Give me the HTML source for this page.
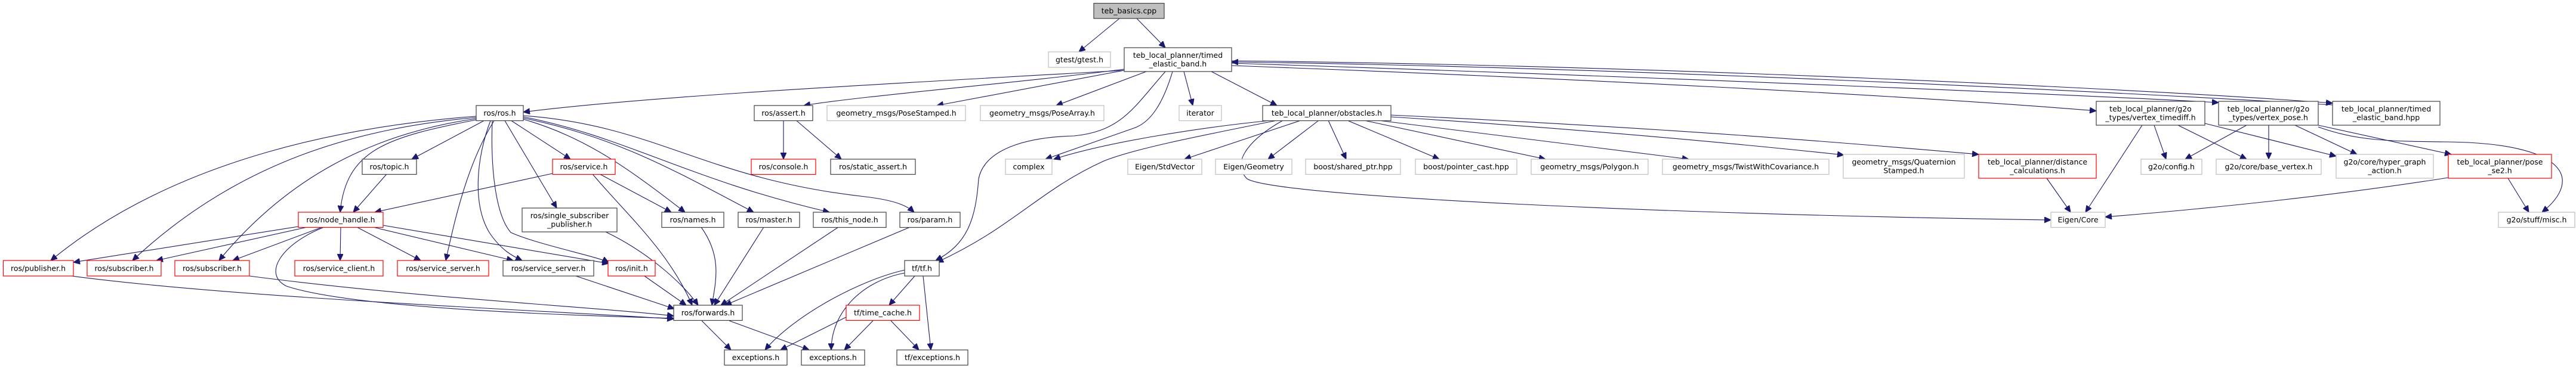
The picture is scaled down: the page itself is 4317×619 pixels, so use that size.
<!DOCTYPE html>
<html><head><meta charset="utf-8"><style>
html,body{margin:0;padding:0;background:#fff;}
svg{display:block;}
text{font-family:"DejaVu Sans","Liberation Sans",sans-serif;font-size:12.5px;fill:#000;}
.k{fill:#fff;stroke:#404040;stroke-width:1.2;}
.r{fill:#fff;stroke:#ff0000;stroke-width:1.2;}
.g{fill:#fff;stroke:#bfbfbf;stroke-width:1.2;}
path.e{fill:none;stroke:#191970;stroke-width:1.1;marker-end:url(#ah);}
</style></head><body>
<svg width="4317" height="619" viewBox="0 0 4317 619" xmlns="http://www.w3.org/2000/svg">
<defs><marker id="ah" markerUnits="userSpaceOnUse" markerWidth="12" markerHeight="10" refX="11" refY="5" orient="auto"><path d="M0,0 L11,5 L0,10 z" fill="#191970" stroke="#191970"/></marker></defs>
<g>
<path class="e" d="M1876,31 L1808,87"/>
<path class="e" d="M1905,31 L1953,80"/>
<path class="e" d="M1884,118 C1500,140 1100,160 877,188"/>
<path class="e" d="M1884,116 C1700,140 1450,160 1347,177"/>
<path class="e" d="M1884,118 L1570,177"/>
<path class="e" d="M1921,120 L1770,177"/>
<path class="e" d="M1953,120 C1900,180 1880,220 1800,228 C1720,230 1650,250 1640,300 C1635,370 1620,410 1568,437"/>
<path class="e" d="M1965,120 C1950,170 1930,205 1900,215 L1752,267"/>
<path class="e" d="M1984,120 L1999,177"/>
<path class="e" d="M2030,120 L2140,177"/>
<path class="e" d="M2064,110 C2600,130 3200,160 3513,186"/>
<path class="e" d="M2064,106 C2800,130 3500,160 3718,172"/>
<path class="e" d="M2064,102 C2800,110 3600,150 3909,173"/>
<path class="e" d="M3909,176 C3500,152 2700,112 2064,104"/>
<path class="e" d="M798,195 C600,210 300,260 85,437"/>
<path class="e" d="M798,197 C600,215 400,270 222,437"/>
<path class="e" d="M798,199 C620,225 480,300 367,437"/>
<path class="e" d="M798,201 C650,230 580,250 570,356"/>
<path class="e" d="M811,202.5 L690,267"/>
<path class="e" d="M857,202.5 L956,267"/>
<path class="e" d="M846,202.5 L933,349"/>
<path class="e" d="M877,200 C980,230 1050,280 1148,356"/>
<path class="e" d="M877,198 C1030,230 1120,280 1263,356"/>
<path class="e" d="M877,196 C1050,230 1150,300 1390,356"/>
<path class="e" d="M877,194 C1100,210 1180,300 1450,330 C1500,336 1520,345 1532,356"/>
<path class="e" d="M828,202.5 C780,280 760,380 747,437"/>
<path class="e" d="M822,202.5 C800,260 790,340 820,390 C840,420 860,430 875,437"/>
<path class="e" d="M825,202.5 C822,280 830,360 856,390 C900,410 1000,430 1020,440"/>
<path class="e" d="M500,380 L123,440"/>
<path class="e" d="M515,381 L262,437"/>
<path class="e" d="M540,381 L390,437"/>
<path class="e" d="M571,381 L570,437"/>
<path class="e" d="M598,381 L705,437"/>
<path class="e" d="M625,381 L860,437"/>
<path class="e" d="M642,378 L1020,442"/>
<path class="e" d="M543,381 C470,410 440,460 480,480 C600,520 1000,530 1129,534"/>
<path class="e" d="M648,292 L592,356"/>
<path class="e" d="M926,291 L628,356"/>
<path class="e" d="M1005,292 L1125,356"/>
<path class="e" d="M993,292 C1050,360 1120,420 1160,512"/>
<path class="e" d="M1015,389 C1080,420 1140,470 1170,512"/>
<path class="e" d="M1175,381 C1210,430 1200,470 1193,512"/>
<path class="e" d="M1280,381 L1197,512"/>
<path class="e" d="M1405,381 L1208,512"/>
<path class="e" d="M1525,381 L1215,512"/>
<path class="e" d="M965,463 L1130,518"/>
<path class="e" d="M1080,463 L1150,512"/>
<path class="e" d="M120,463 C400,500 900,520 1129,535"/>
<path class="e" d="M418,463 C700,500 1000,515 1129,530"/>
<path class="e" d="M1176,538 L1225,587"/>
<path class="e" d="M1222,538 L1356,587"/>
<path class="e" d="M1516,453 C1440,470 1330,530 1282,587"/>
<path class="e" d="M1516,458 C1450,470 1393,520 1393,587"/>
<path class="e" d="M1533,463 L1490,512"/>
<path class="e" d="M1547,463 L1560,587"/>
<path class="e" d="M1418,532 L1308,587"/>
<path class="e" d="M1463,538 L1415,587"/>
<path class="e" d="M1493,538 L1540,587"/>
<path class="e" d="M1313,202.5 L1313,267"/>
<path class="e" d="M1335,202.5 L1410,267"/>
<path class="e" d="M2130,202 C2000,215 1850,240 1766,267"/>
<path class="e" d="M2140,202 C2000,230 1900,250 1850,270 C1740,320 1700,380 1570,440"/>
<path class="e" d="M2150,202 C2100,230 2060,270 2090,300 C2140,330 2800,360 3437,369"/>
<path class="e" d="M2180,202 L1985,267"/>
<path class="e" d="M2210,202 L2125,267"/>
<path class="e" d="M2226,202 L2256,267"/>
<path class="e" d="M2258,202 L2412,267"/>
<path class="e" d="M2286,202 L2590,267"/>
<path class="e" d="M2310,202 L2830,267"/>
<path class="e" d="M2331,196 C2700,220 2950,245 3090,260"/>
<path class="e" d="M2331,193 C2800,215 3100,240 3316,259"/>
<path class="e" d="M3430,299 L3470,356"/>
<path class="e" d="M3590,210 L3495,356"/>
<path class="e" d="M4103,298 C3900,330 3700,350 3528,364"/>
<path class="e" d="M3610,210 L3630,267"/>
<path class="e" d="M3650,210 L3765,267"/>
<path class="e" d="M3695,207 L3915,262"/>
<path class="e" d="M3765,210 L3662,267"/>
<path class="e" d="M3802,210 L3802,267"/>
<path class="e" d="M3846,210 L3950,259"/>
<path class="e" d="M3885,210 L4108,259"/>
<path class="e" d="M3885,213 C3950,236 4000,237 4100,238 C4300,240 4330,300 4260,356"/>
<path class="e" d="M4203,299 L4238,356"/>
</g>
<g>
<rect x="1833" y="5.5" width="118" height="25.5" fill="#bfbfbf" stroke="#404040" stroke-width="1.2"/><text x="1892" y="22.5" text-anchor="middle">teb_basics.cpp</text>
<rect class="g" x="1757" y="87" width="104" height="26"/><text x="1809" y="104.5" text-anchor="middle">gtest/gtest.h</text>
<rect class="k" x="1884" y="80" width="180" height="40"/><text x="1974" y="97" text-anchor="middle">teb_local_planner/timed</text><text x="1974" y="111.5" text-anchor="middle">_elastic_band.h</text>
<rect class="k" x="798" y="177" width="79" height="25.5"/><text x="837.5" y="194" text-anchor="middle">ros/ros.h</text>
<rect class="k" x="1264" y="177" width="98" height="25.5"/><text x="1313" y="194" text-anchor="middle">ros/assert.h</text>
<rect class="g" x="1386" y="177" width="232" height="25.5"/><text x="1502" y="194" text-anchor="middle">geometry_msgs/PoseStamped.h</text>
<rect class="g" x="1643" y="177" width="207" height="25.5"/><text x="1746.5" y="194" text-anchor="middle">geometry_msgs/PoseArray.h</text>
<rect class="g" x="1976" y="177" width="71" height="25.5"/><text x="2011.5" y="194" text-anchor="middle">iterator</text>
<rect class="k" x="2116" y="177" width="215" height="25.5"/><text x="2223.5" y="194" text-anchor="middle">teb_local_planner/obstacles.h</text>
<rect class="k" x="3513" y="170" width="182" height="40"/><text x="3604" y="187" text-anchor="middle">teb_local_planner/g2o</text><text x="3604" y="201.5" text-anchor="middle">_types/vertex_timediff.h</text>
<rect class="k" x="3718" y="170" width="167" height="40"/><text x="3801.5" y="187" text-anchor="middle">teb_local_planner/g2o</text><text x="3801.5" y="201.5" text-anchor="middle">_types/vertex_pose.h</text>
<rect class="k" x="3909" y="170" width="180" height="40"/><text x="3999" y="187" text-anchor="middle">teb_local_planner/timed</text><text x="3999" y="201.5" text-anchor="middle">_elastic_band.hpp</text>
<rect class="k" x="607" y="267" width="91" height="25.5"/><text x="652.5" y="284" text-anchor="middle">ros/topic.h</text>
<rect class="r" x="926" y="267" width="105" height="25.5"/><text x="978.5" y="284" text-anchor="middle">ros/service.h</text>
<rect class="r" x="1259" y="267" width="108" height="25.5"/><text x="1313" y="284" text-anchor="middle">ros/console.h</text>
<rect class="k" x="1392" y="267" width="142" height="25.5"/><text x="1463" y="284" text-anchor="middle">ros/static_assert.h</text>
<rect class="g" x="1685" y="267" width="78" height="25.5"/><text x="1724" y="284" text-anchor="middle">complex</text>
<rect class="g" x="1890" y="267" width="124" height="25.5"/><text x="1952" y="284" text-anchor="middle">Eigen/StdVector</text>
<rect class="g" x="2037" y="267" width="128" height="25.5"/><text x="2101" y="284" text-anchor="middle">Eigen/Geometry</text>
<rect class="g" x="2188" y="267" width="159" height="25.5"/><text x="2267.5" y="284" text-anchor="middle">boost/shared_ptr.hpp</text>
<rect class="g" x="2372" y="267" width="170" height="25.5"/><text x="2457" y="284" text-anchor="middle">boost/pointer_cast.hpp</text>
<rect class="g" x="2566" y="267" width="196" height="25.5"/><text x="2664" y="284" text-anchor="middle">geometry_msgs/Polygon.h</text>
<rect class="g" x="2786" y="267" width="279" height="25.5"/><text x="2925.5" y="284" text-anchor="middle">geometry_msgs/TwistWithCovariance.h</text>
<rect class="g" x="3089" y="259" width="203" height="40"/><text x="3190.5" y="276" text-anchor="middle">geometry_msgs/Quaternion</text><text x="3190.5" y="290.5" text-anchor="middle">Stamped.h</text>
<rect class="r" x="3316" y="259" width="197" height="40"/><text x="3414.5" y="276" text-anchor="middle">teb_local_planner/distance</text><text x="3414.5" y="290.5" text-anchor="middle">_calculations.h</text>
<rect class="g" x="3588" y="267" width="102" height="25.5"/><text x="3639" y="284" text-anchor="middle">g2o/config.h</text>
<rect class="g" x="3714" y="267" width="176" height="25.5"/><text x="3802" y="284" text-anchor="middle">g2o/core/base_vertex.h</text>
<rect class="g" x="3915" y="259" width="163" height="40"/><text x="3996.5" y="276" text-anchor="middle">g2o/core/hyper_graph</text><text x="3996.5" y="290.5" text-anchor="middle">_action.h</text>
<rect class="r" x="4103" y="259" width="173" height="40"/><text x="4189.5" y="276" text-anchor="middle">teb_local_planner/pose</text><text x="4189.5" y="290.5" text-anchor="middle">_se2.h</text>
<rect class="r" x="500" y="356" width="142" height="25.5"/><text x="571" y="373" text-anchor="middle">ros/node_handle.h</text>
<rect class="k" x="875" y="349" width="159" height="40"/><text x="954.5" y="366" text-anchor="middle">ros/single_subscriber</text><text x="954.5" y="380.5" text-anchor="middle">_publisher.h</text>
<rect class="k" x="1109" y="356" width="104" height="25.5"/><text x="1161" y="373" text-anchor="middle">ros/names.h</text>
<rect class="k" x="1237" y="356" width="103" height="25.5"/><text x="1288.5" y="373" text-anchor="middle">ros/master.h</text>
<rect class="k" x="1363" y="356" width="122" height="25.5"/><text x="1424" y="373" text-anchor="middle">ros/this_node.h</text>
<rect class="k" x="1508" y="356" width="101" height="25.5"/><text x="1558.5" y="373" text-anchor="middle">ros/param.h</text>
<rect class="g" x="3437" y="356" width="91" height="25.5"/><text x="3482.5" y="373" text-anchor="middle">Eigen/Core</text>
<rect class="g" x="4187" y="356" width="128" height="25.5"/><text x="4251" y="373" text-anchor="middle">g2o/stuff/misc.h</text>
<rect class="r" x="5.5" y="437" width="117.5" height="26"/><text x="64" y="454.5" text-anchor="middle">ros/publisher.h</text>
<rect class="r" x="146" y="437" width="124" height="26"/><text x="208" y="454.5" text-anchor="middle">ros/subscriber.h</text>
<rect class="r" x="293" y="437" width="125" height="26"/><text x="355.5" y="454.5" text-anchor="middle">ros/subscriber.h</text>
<rect class="r" x="494" y="437" width="148" height="26"/><text x="568" y="454.5" text-anchor="middle">ros/service_client.h</text>
<rect class="r" x="666" y="437" width="153" height="26"/><text x="742.5" y="454.5" text-anchor="middle">ros/service_server.h</text>
<rect class="k" x="843" y="437" width="152" height="26"/><text x="919" y="454.5" text-anchor="middle">ros/service_server.h</text>
<rect class="r" x="1019" y="437" width="79" height="26"/><text x="1058.5" y="454.5" text-anchor="middle">ros/init.h</text>
<rect class="k" x="1516" y="437" width="58" height="26"/><text x="1545" y="454.5" text-anchor="middle">tf/tf.h</text>
<rect class="k" x="1129" y="512" width="115" height="25.5"/><text x="1186.5" y="529" text-anchor="middle">ros/forwards.h</text>
<rect class="r" x="1418" y="512" width="123" height="25.5"/><text x="1479.5" y="529" text-anchor="middle">tf/time_cache.h</text>
<rect class="k" x="1214" y="587" width="105" height="25.5"/><text x="1266.5" y="604" text-anchor="middle">exceptions.h</text>
<rect class="k" x="1343" y="587" width="106" height="25.5"/><text x="1396" y="604" text-anchor="middle">exceptions.h</text>
<rect class="k" x="1503" y="587" width="119" height="25.5"/><text x="1562.5" y="604" text-anchor="middle">tf/exceptions.h</text>
</g>
</svg>
</body></html>
